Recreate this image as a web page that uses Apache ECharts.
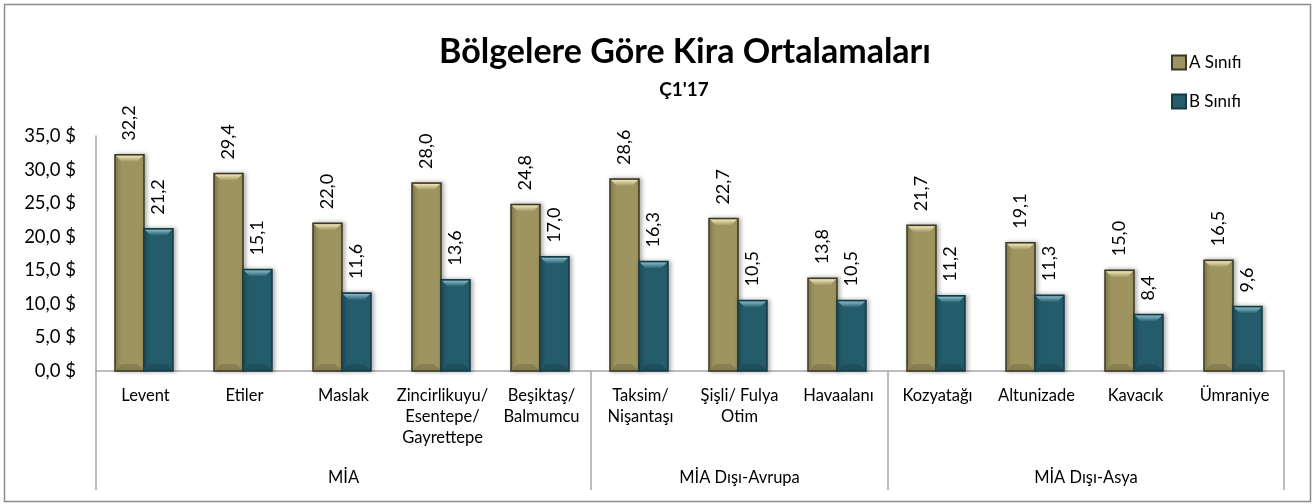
<!DOCTYPE html>
<html>
<head>
<meta charset="utf-8">
<script src="https://cdn.jsdelivr.net/npm/echarts@6/dist/echarts.min.js"></script>
<style>
  html, body { margin: 0; padding: 0; background: #fff; }
  #chart { width: 1315px; height: 504px; }
</style>
</head>
<body>
<div id="chart"></div>
<script>
const categories = [
  'Levent', 'Etiler', 'Maslak', 'Zincirlikuyu/\nEsentepe/\nGayrettepe', 'Beşiktaş/\nBalmumcu',
  'Taksim/\nNişantaşı', 'Şişli/ Fulya\nOtim', 'Havaalanı',
  'Kozyatağı', 'Altunizade', 'Kavacık', 'Ümraniye'
]
const groupNames = ['MİA', 'MİA Dışı-Avrupa', 'MİA Dışı-Asya']
const groupSizes = [5, 3, 4]
const classA = [32.2, 29.4, 22.0, 28.0, 24.8, 28.6, 22.7, 13.8, 21.7, 19.1, 15.0, 16.5]
const classB = [21.2, 15.1, 11.6, 13.6, 17.0, 16.3, 10.5, 10.5, 11.2, 11.3, 8.4, 9.6]
const seriesNames = ['A Sınıfı', 'B Sınıfı']
const yMin = 0
const yMax = 35
const yStep = 5

const FONT = 'Lato, "Open Sans", sans-serif'

// bar look: body, border, light bevel on top, darker bottom
const looks = [
  { fill: '#9d945f', border: '#3b3723', light: '#eee6b8', dark: '#7d7549' },
  { fill: '#255c6c', border: '#163a45', light: '#86b9c6', dark: '#1b4854' },
]

const fmt = (v) => v.toFixed(1).replace('.', ',')

const chart = echarts.init(document.getElementById('chart'))

function renderBar(params, api) {
  const s = params.seriesIndex
  const look = looks[s]
  const cat = api.value(0)
  const val = api.value(1)
  const top = api.coord([cat, val])
  const base = api.coord([cat, 0])
  const catW = api.size([1, 0])[0]
  const bw = catW * 0.293
  const x = top[0] - bw + s * bw - 1.5
  const y = top[1]
  const h = base[1] - top[1]
  const b = Math.min(7, h / 2)

  return {
    type: 'group',
    children: [
      {
        type: 'rect',
        shape: { x, y, width: bw, height: h },
        style: {
          fill: look.fill,
          stroke: look.border,
          lineWidth: 1.5,
          shadowBlur: 4,
          shadowOffsetX: 2,
          shadowColor: 'rgba(0,0,0,0.3)',
        },
      },
      {
        type: 'polygon',
        shape: { points: [[x + 1, y + 1], [x + bw - 1, y + 1], [x + bw - b, y + b], [x + b, y + b]] },
        style: {
          fill: new echarts.graphic.LinearGradient(0, 0, 0, 1, [
            { offset: 0, color: look.light },
            { offset: 1, color: look.fill },
          ]),
        },
      },
      {
        type: 'polygon',
        shape: { points: [[x + 1, y + h - 1], [x + bw - 1, y + h - 1], [x + bw - b, y + h - b], [x + b, y + h - b]] },
        style: { fill: look.dark, opacity: 0.6 },
      },
      {
        type: 'polygon',
        shape: { points: [[x + 1, y + 1], [x + b * 0.4, y + b], [x + b * 0.4, y + h - b], [x + 1, y + h - 1]] },
        style: { fill: look.dark, opacity: 0.5 },
      },
      {
        type: 'text',
        x: x + bw / 2,
        y: y - 14,
        rotation: Math.PI / 2,
        style: {
          text: fmt(val),
          align: 'left',
          verticalAlign: 'middle',
          fontSize: 18,
          fontFamily: FONT,
          fill: '#000',
        },
      },
    ],
  }
}

const option = {
  animation: false,
  backgroundColor: '#fff',
  textStyle: { fontFamily: FONT },
  legend: {
    orient: 'vertical',
    left: 1166,
    top: 49,
    itemWidth: 14,
    itemHeight: 14,
    itemGap: 22,
    icon: 'rect',
    textStyle: { fontSize: 17, color: '#000', fontFamily: FONT, padding: [0, 0, 0, -2] },
    data: seriesNames,
  },
  grid: {
    left: 96,
    right: 31,
    top: 136,
    bottom: 133,
  },
  xAxis: {
    type: 'category',
    data: categories,
    axisLine: { lineStyle: { color: '#a6a6a6', width: 1.5 } },
    axisTick: { show: false },
    axisLabel: {
      interval: 0,
      margin: 14,
      color: '#000',
      fontSize: 16.5,
      lineHeight: 21,
      fontFamily: FONT,
    },
  },
  yAxis: {
    type: 'value',
    min: yMin,
    max: yMax,
    interval: yStep,
    axisLine: { show: true, lineStyle: { color: '#a6a6a6', width: 1.5 } },
    axisTick: { show: false },
    splitLine: { show: false },
    axisLabel: {
      margin: 20,
      color: '#000',
      fontSize: 18.5,
      fontFamily: FONT,
      formatter: (v) => fmt(v) + ' $',
    },
  },
  series: [classA, classB].map((vals, s) => ({
    name: seriesNames[s],
    type: 'custom',
    renderItem: renderBar,
    itemStyle: { color: looks[s].fill, borderColor: looks[s].border, borderWidth: 1 },
    encode: { x: 0, y: 1 },
    data: vals.map((v, i) => [i, v]),
  })),
}

chart.setOption(option)

// group separators and group labels, placed from the category axis
function buildGroups() {
  const c0 = chart.convertToPixel({ gridIndex: 0 }, [0, 0])
  const c1 = chart.convertToPixel({ gridIndex: 0 }, [1, 0])
  const step = c1[0] - c0[0]
  const axisY = c0[1]
  const bottomY = axisY + 119
  const edge = (i) => c0[0] + (i - 0.5) * step
  const elements = []
  let start = 0
  const bounds = [0]
  groupSizes.forEach((n, g) => {
    elements.push({
      type: 'text',
      x: edge(start + n / 2),
      y: axisY + 107,
      style: {
        text: groupNames[g],
        align: 'center',
        verticalAlign: 'middle',
        fontSize: 16.5,
        fontFamily: FONT,
        fill: '#000',
      },
    })
    start += n
    bounds.push(start)
  })
  bounds.forEach((i) => {
    elements.push({
      type: 'line',
      shape: { x1: edge(i), y1: axisY, x2: edge(i), y2: bottomY },
      style: { stroke: '#a6a6a6', lineWidth: 1.5 },
    })
  })

  elements.push(
    {
      type: 'rect',
      shape: { x: 4.5, y: 4.5, width: 1306, height: 497 },
      style: { fill: 'none', stroke: '#8c8c8c', lineWidth: 1.5 },
      silent: true,
    },
    {
      type: 'text',
      x: 685,
      y: 52,
      style: {
        text: 'Bölgelere Göre Kira Ortalamaları',
        align: 'center',
        verticalAlign: 'middle',
        fontSize: 34,
        fontWeight: 'bold',
        fontFamily: FONT,
        fill: '#000',
      },
    },
    {
      type: 'text',
      x: 684,
      y: 90,
      style: {
        text: "Ç1'17",
        align: 'center',
        verticalAlign: 'middle',
        fontSize: 19,
        fontWeight: 'bold',
        fontFamily: FONT,
        fill: '#000',
      },
    }
  )

  chart.setOption({ graphic: elements })
}

buildGroups()

window.addEventListener('resize', () => chart.resize())
</script>
</body>
</html>
